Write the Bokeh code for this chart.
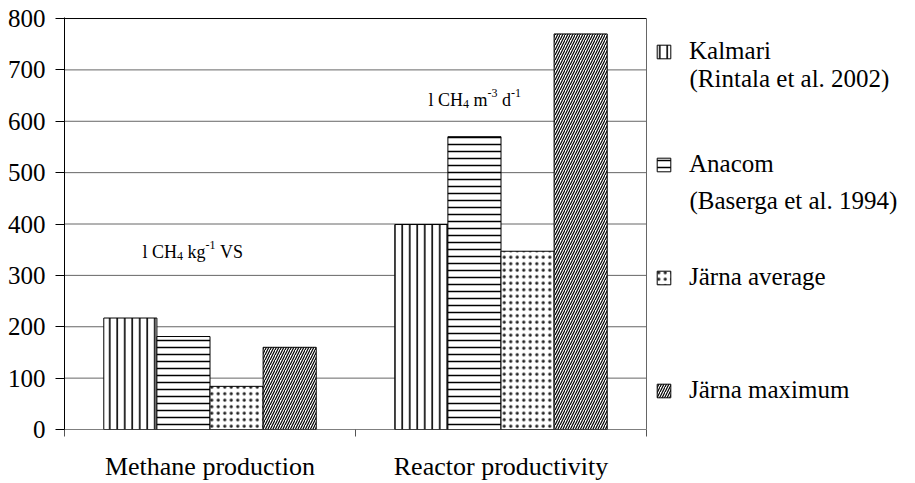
from bokeh.plotting import figure
from bokeh.models import Range1d, FixedTicker, Legend, LegendItem, Label, ColumnDataSource
from bokeh.embed import file_html
from bokeh.resources import INLINE

# ---------------- data ----------------
categories = ["Methane production", "Reactor productivity"]
series_names = ["Kalmari", "Anacom", "Järna average", "Järna maximum"]
legend_second_lines = ["(Rintala et al. 2002)", "(Baserga et al. 1994)", "", ""]
kalmari = [217, 399]
anacom = [181, 570]
jarna_average = [84, 347]
jarna_maximum = [160, 770]
y_ticks = [0, 100, 200, 300, 400, 500, 600, 700, 800]
unit_methane = [("l CH", "main"), ("4", "sub"), (" kg", "main"), ("-1", "sup"), (" VS", "main")]
unit_reactor = [("l CH", "main"), ("4", "sub"), (" m", "main"), ("-3", "sup"), (" d", "main"), ("-1", "sup")]

# ---------------- style / layout ----------------
FONT = "Liberation Serif"
W, H = 915, 483
LEFT, TOP, BOTTOM = 64, 17, 53
PX_PER_CAT = 291.0                      # pixel width of one category slot
X_END = (W - LEFT) / PX_PER_CAT         # frame extends to the right edge (legend lives there)
N = len(categories)
Y_TOP = y_ticks[-1] + 2
GROUP = 0.73
BAR_W = GROUP / 4
styles = [
    dict(hatch_pattern="vertical_line", hatch_scale=7.5, hatch_weight=1.6),
    dict(hatch_pattern="horizontal_line", hatch_scale=7, hatch_weight=1.5),
    dict(hatch_pattern="dot", hatch_scale=6.5, hatch_weight=1, hatch_color="#222222"),
    dict(hatch_pattern="right_diagonal_line", hatch_scale=5, hatch_weight=1.2),
]

p = figure(width=W, height=H, output_backend="svg", toolbar_location=None,
           x_range=Range1d(0, X_END), y_range=Range1d(0, Y_TOP),
           min_border_left=LEFT, min_border_right=0, min_border_top=TOP,
           min_border_bottom=BOTTOM)
p.background_fill_color = "white"
p.border_fill_color = "white"
p.outline_line_color = None
p.xgrid.visible = False
p.ygrid.visible = False

# y axis
p.yaxis.ticker = FixedTicker(ticks=y_ticks)
p.yaxis.major_label_text_font = FONT
p.yaxis.major_label_text_font_size = "25px"
p.yaxis.major_label_text_color = "black"
p.yaxis.major_tick_out = 9
p.yaxis.major_tick_in = 0
p.yaxis.minor_tick_line_color = None
p.yaxis.major_label_standoff = 10
p.yaxis.axis_line_color = "black"
p.yaxis.major_tick_line_color = "black"

# x axis: labels at category centres, ticks at category boundaries
centers = [i + 0.5 for i in range(N)]
p.xaxis.ticker = FixedTicker(ticks=centers, minor_ticks=list(range(N + 1)))
p.xaxis.major_label_overrides = {c: name for c, name in zip(centers, categories)}
p.xaxis.major_label_text_font = FONT
p.xaxis.major_label_text_font_size = "26px"
p.xaxis.major_label_text_color = "black"
p.xaxis.major_tick_out = 0
p.xaxis.major_tick_in = 0
p.xaxis.minor_tick_out = 7
p.xaxis.minor_tick_in = 0
p.xaxis.minor_tick_line_color = "#555555"
p.xaxis.major_label_standoff = 15
p.xaxis.axis_line_color = None

# plot box: gridlines, top and right border
grid_y = y_ticks[1:-1]
p.segment(x0=[0] * len(grid_y), x1=[N] * len(grid_y), y0=grid_y, y1=grid_y,
          line_color="#666666", line_width=1)
p.segment(x0=[0], x1=[N], y0=[y_ticks[-1]], y1=[y_ticks[-1]], line_color="black", line_width=1)
p.segment(x0=[N], x1=[N], y0=[0], y1=[y_ticks[-1]], line_color="#666666", line_width=1)

# bars
values = [kalmari, anacom, jarna_average, jarna_maximum]
renderers = []
for i, (name, vals, st) in enumerate(zip(series_names, values, styles)):
    off = (i - 1.5) * BAR_W
    src = ColumnDataSource(dict(x=[c + off for c in centers], top=vals))
    st = dict(st)
    hc = st.pop("hatch_color", "black")
    r = p.vbar(x="x", top="top", width=BAR_W, source=src, fill_color="white",
               line_color="black", line_width=1, hatch_color=hc, **st)
    renderers.append(r)

# baseline (value axis zero)
p.segment(x0=[0], x1=[N], y0=[0], y1=[0], line_color="black", line_width=1.2)

# legend (location = bottom-left corner, px from frame bottom-left)
legend = Legend(items=[LegendItem(label=n, renderers=[r]) for n, r in zip(series_names, renderers)],
                location=(591, 24), orientation="vertical",
                glyph_width=17, glyph_height=17, label_standoff=17,
                label_text_font=FONT, label_text_font_size="25px", label_text_color="black",
                label_height=30, spacing=83, padding=0, margin=0,
                border_line_alpha=0, background_fill_alpha=0)
p.add_layout(legend, "center")

# second legend lines
second_y = [683, 446]
for txt, yv in zip(legend_second_lines, second_y):
    if txt:
        p.add_layout(Label(x=N + (689 - 646) / PX_PER_CAT, y=yv, text=txt,
                           text_font=FONT, text_font_size="25px",
                           text_baseline="middle", text_color="black"))

# unit annotations with sub/superscripts
TIMES_W = {"l": .278, " ": .25, "C": .667, "H": .722, "4": .5, "k": .5, "g": .5,
           "-": .333, "1": .5, "V": .722, "S": .556, "m": .778, "3": .5, "d": .5}

def add_unit(pieces, x, y):
    xoff = 0.0
    for txt, kind in pieces:
        size = 18 if kind == "main" else 12
        yoff = 0 if kind == "main" else (-4 if kind == "sub" else 7)
        lead = len(txt) - len(txt.lstrip(" "))
        xoff += lead * TIMES_W[" "] * size
        body = txt.strip(" ")
        p.add_layout(Label(x=x, y=y, x_offset=xoff, y_offset=yoff, text=body,
                           text_font=FONT, text_font_size=f"{size}px",
                           text_baseline="alphabetic", text_color="black"))
        xoff += sum(TIMES_W.get(ch, .5) for ch in body) * size

add_unit(unit_methane, 0.268, 345)
add_unit(unit_reactor, 1.251, 641)

open("out.html", "w").write(file_html(p, INLINE))
